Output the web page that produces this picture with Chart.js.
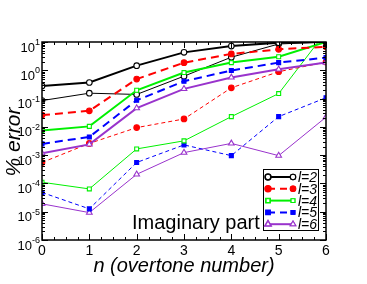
<!DOCTYPE html>
<html>
<head>
<meta charset="utf-8">
<script src="https://cdn.jsdelivr.net/npm/chart.js@4/dist/chart.umd.min.js"></script>
<style>
  html, body { margin: 0; padding: 0; background: #fff; }
  #wrap { width: 367px; height: 284px; }
</style>
</head>
<body>
<div id="wrap"><canvas id="c" width="367" height="284"></canvas></div>
<script>
// ---------------- Data ----------------
const overtones = [0, 1, 2, 3, 4, 5, 6];
const xTicks = [0, 1, 2, 3, 4, 5, 6];
const yDecades = [-6, -5, -4, -3, -2, -1, 0, 1];
const legendLabels = ["l=2", "l=3", "l=4", "l=5", "l=6"];

// thick lines
const l2Fit = [0.28, 0.37, 1.46, 4.3, 7.2, 9.5, 10];
const l3Fit = [0.026, 0.037, 0.49, 1.86, 3.8, 5.5, 6.8];
const l4Fit = [0.0074, 0.0104, 0.196, 0.83, 1.87, 3.0, 10];
const l5Fit = [0.0025, 0.0044, 0.087, 0.41, 0.98, 1.87, 2.8];
const l6Fit = [0.00117, 0.0024, 0.046, 0.22, 0.56, 1.08, 1.87];

// thin lines
const l2Alt = [0.085, 0.155, 0.14, 0.62, 2.9, 8.5, 10];
const l3Alt = [0.00055, 0.0026, 0.0094, 0.019, 0.24, 0.89, 1.96];
const l4Alt = [0.00011, 0.000064, 0.00166, 0.0032, 0.023, 0.15, 23];
const l5Alt = [0.000048, 0.0000126, 0.00055, 0.0023, 0.00096, 0.023, 0.107];
const l6Alt = [0.000019, 0.0000093, 0.00021, 0.00123, 0.0026, 0.00096, 0.022];

const FONT = '"Liberation Sans", Arial, Helvetica, sans-serif';
const BLACK = "#000000", RED = "#ff0000", GREEN = "#00f000", BLUE = "#0000ff", PURPLE = "#9933cc";

const pts = (vals) => vals.map((v, i) => ({ x: overtones[i], y: v }));

// style per l: color, marker, filled, dashed
const styles = [
  { color: BLACK, marker: "circle", filled: false, dash: false },
  { color: RED, marker: "circle", filled: true, dash: true },
  { color: GREEN, marker: "rect", filled: false, dash: false },
  { color: BLUE, marker: "rect", filled: true, dash: true },
  { color: PURPLE, marker: "triangle", filled: false, dash: false },
];

const makeSet = (vals, s, thick) => ({
  data: pts(vals),
  borderColor: s.color,
  borderWidth: thick ? 2 : 1,
  borderDash: s.dash ? (thick ? [8, 5] : [4, 3]) : [],
  pointStyle: s.marker,
  pointRadius: s.marker === "triangle" ? 3.3 : 2.8,
  pointBorderWidth: 1.1,
  pointBorderColor: s.color,
  pointBackgroundColor: s.filled ? s.color : "#ffffff",
  tension: 0,
});

const fitSets = [l2Fit, l3Fit, l4Fit, l5Fit, l6Fit];
const altSets = [l2Alt, l3Alt, l4Alt, l5Alt, l6Alt];
const datasets = [];
fitSets.forEach((v, i) => datasets.push(makeSet(v, styles[i], true)));
altSets.forEach((v, i) => datasets.push(makeSet(v, styles[i], false)));

// ---------------- Frame, ticks, labels, legend ----------------
const framePlugin = {
  id: "frame",
  afterDatasetsDraw(chart) {
    const { ctx, chartArea: a, scales } = chart;
    const xs = scales.x, ys = scales.y;
    ctx.save();
    ctx.strokeStyle = "#000";
    ctx.lineWidth = 1.5;
    ctx.strokeRect(a.left, a.top, a.right - a.left, a.bottom - a.top);

    ctx.lineWidth = 1;
    ctx.beginPath();
    // x ticks (major every 1, minor every 0.25), bottom and top
    for (let v = 0; v <= 6.001; v += 0.25) {
      const px = Math.round(xs.getPixelForValue(v)) + 0.5;
      const len = Math.abs(v - Math.round(v)) < 1e-6 ? 6 : 3;
      ctx.moveTo(px, a.bottom); ctx.lineTo(px, a.bottom - len);
      ctx.moveTo(px, a.top); ctx.lineTo(px, a.top + len);
    }
    // y ticks (log), left and right
    for (let d = -6; d <= 1; d++) {
      for (let m = 1; m <= 9; m++) {
        const v = m * Math.pow(10, d);
        if (v > 10.0001) break;
        const py = Math.round(ys.getPixelForValue(v)) + 0.5;
        const len = m === 1 ? 6 : 3;
        ctx.moveTo(a.left, py); ctx.lineTo(a.left + len, py);
        ctx.moveTo(a.right, py); ctx.lineTo(a.right - len, py);
      }
    }
    ctx.stroke();

    // x tick labels
    ctx.fillStyle = "#000";
    ctx.font = "14px " + FONT;
    ctx.textAlign = "center";
    ctx.textBaseline = "alphabetic";
    xTicks.forEach((t) => {
      ctx.fillText(String(t), xs.getPixelForValue(t), a.bottom + 15);
    });

    // y tick labels 10^d
    yDecades.forEach((d) => {
      const py = ys.getPixelForValue(Math.pow(10, d));
      const exp = String(d);
      ctx.font = "9px " + FONT;
      const ew = ctx.measureText(exp).width;
      const right = a.left - 2;
      ctx.textAlign = "right";
      ctx.fillText(exp, right, py + 3);
      ctx.font = "13px " + FONT;
      ctx.fillText("10", right - ew, py + 9.5);
    });

    // axis titles
    ctx.font = "italic 20px " + FONT;
    ctx.textAlign = "center";
    ctx.fillText("n (overtone number)", (a.left + a.right) / 2, 272);
    ctx.save();
    ctx.translate(20, 142);
    ctx.rotate(-Math.PI / 2);
    ctx.font = "italic 21px " + FONT;
    ctx.fillText("% error", 0, 0);
    ctx.restore();

    // annotation
    ctx.font = "20px " + FONT;
    ctx.textAlign = "left";
    ctx.fillText("Imaginary part", 132, 229);

    // legend box
    const lx = 263, ly = 169, lw = 55, lh = 61;
    ctx.fillStyle = "#fff";
    ctx.fillRect(lx, ly, lw, lh);
    ctx.strokeStyle = "#000";
    ctx.lineWidth = 1;
    ctx.strokeRect(lx + 0.5, ly + 0.5, lw, lh);
    legendLabels.forEach((lab, i) => {
      const s = styles[i];
      const yy = ly + 8 + i * 11.8;
      const x1 = lx + 5, x2 = lx + 30;
      ctx.save();
      ctx.strokeStyle = s.color;
      ctx.lineWidth = 2;
      ctx.setLineDash(s.dash ? [7, 5] : []);
      ctx.beginPath();
      ctx.moveTo(x1, yy); ctx.lineTo(x2, yy);
      ctx.stroke();
      ctx.setLineDash([]);
      [x1, x2].forEach((mx) => {
        Chart.helpers.drawPoint(ctx, {
          pointStyle: s.marker, radius: s.marker === "triangle" ? 3.2 : 2.7,
          borderWidth: 1.1, rotation: 0,
        }, mx, yy);
        ctx.fillStyle = s.filled ? s.color : "#fff";
        ctx.lineWidth = 1.1;
        ctx.fill();
        ctx.stroke();
      });
      ctx.restore();
      ctx.fillStyle = "#000";
      ctx.font = "italic 14px " + FONT;
      ctx.textAlign = "left";
      ctx.fillText(lab, x2 + 5, yy + 5);
    });
    ctx.restore();
  },
};

new Chart(document.getElementById("c"), {
  type: "line",
  data: { datasets },
  options: {
    responsive: false,
    animation: false,
    layout: { padding: { left: 42, top: 42, right: 41, bottom: 44 } },
    plugins: { legend: { display: false }, tooltip: { enabled: false } },
    scales: {
      x: { type: "linear", min: 0, max: 6, display: false },
      y: { type: "logarithmic", min: 1e-6, max: 10, display: false },
    },
  },
  plugins: [framePlugin],
});
</script>
</body>
</html>
